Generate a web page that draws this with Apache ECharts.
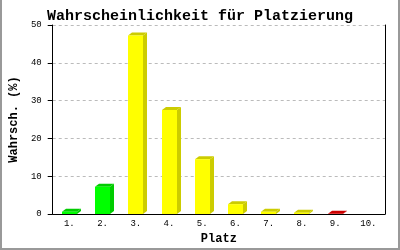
<!DOCTYPE html>
<html><head><meta charset="utf-8">
<script src="https://cdn.jsdelivr.net/npm/echarts@6/dist/echarts.min.js"></script>
<style>
html,body{margin:0;padding:0;background:#fff;}
#c{width:400px;height:250px;position:absolute;left:0;top:0;}
#f{position:absolute;left:0;top:0;width:400px;height:250px;box-sizing:border-box;border:2px solid #999;border-top:none;pointer-events:none;}
</style></head>
<body><div id="c"></div><div id="f"></div>
<script>
const categories = ['1.','2.','3.','4.','5.','6.','7.','8.','9.','10.'];
const values = [0.6, 7.2, 47.2, 27.5, 14.5, 2.6, 0.6, 0.35, 0.05, 0];
const frontColors = ['#00ff00','#00ff00','#ffff00','#ffff00','#ffff00','#ffff00','#ffff00','#ffff00','#ff0000','#ff0000'];
const sideColors = ['#00cc00','#00cc00','#cccc00','#cccc00','#cccc00','#cccc00','#cccc00','#cccc00','#cc0000','#cc0000'];
const yTicks = [0,10,20,30,40,50];

const font = 'Liberation Mono';
const chart = echarts.init(document.getElementById('c'));
chart.setOption({
  animation:false,
  backgroundColor:'#fff',
  title:{text:'Wahrscheinlichkeit für Platzierung',left:'center',top:4,
    textStyle:{fontFamily:font,fontSize:15,fontWeight:'bold',color:'#000'}},
  grid:{left:43,right:15,top:25,bottom:36},
  xAxis:{type:'category',data:categories,boundaryGap:true,
    name:'Platz',nameLocation:'middle',nameGap:18,
    nameTextStyle:{fontFamily:font,fontSize:12,fontWeight:'bold',color:'#000'},
    axisLine:{lineStyle:{color:'#000',width:1}},axisTick:{show:false},
    axisLabel:{fontFamily:font,fontSize:9,color:'#000',margin:5}},
  yAxis:[{type:'value',min:yTicks[0],max:yTicks[yTicks.length-1],interval:10,
    name:'Wahrsch. (%)',nameLocation:'middle',nameGap:31,
    nameTextStyle:{fontFamily:font,fontSize:12,fontWeight:'bold',color:'#000'},
    axisLine:{show:true,lineStyle:{color:'#000',width:1}},
    axisTick:{show:true,length:5,lineStyle:{color:'#000'}},
    axisLabel:{fontFamily:font,fontSize:9,color:'#000',margin:11},
    splitLine:{show:true,lineStyle:{color:'#bbb',type:[3,3],width:1}}},
    {type:'value',min:0,max:50,interval:10,position:'right',
    axisLine:{show:true,lineStyle:{color:'#000',width:1}},
    axisTick:{show:false},axisLabel:{show:false},splitLine:{show:false}}],
  series:[{type:'custom',
    data:values.map((v,i)=>[i,v]),
    renderItem:function(params,api){
      const i = api.value(0), v = api.value(1);
      if(!(v>0)) return;
      const top = api.coord([i,v]);
      const base = api.coord([i,0]);
      const w = 15, dx = 4, dy = 3;
      const x0 = Math.round(top[0]-w/2), x1 = x0+w;
      const ty = top[1], by = base[1];
      return {type:'group',children:[
        {type:'polygon',shape:{points:[[x1,by],[x1,ty],[x1+dx,ty-dy],[x1+dx,by-dy]]},
          style:{fill:sideColors[i]}},
        {type:'polygon',shape:{points:[[x0,ty],[x0+dx,ty-dy],[x1+dx,ty-dy],[x1,ty]]},
          style:{fill:sideColors[i]}},
        {type:'rect',shape:{x:x0,y:ty,width:w,height:by-ty},
          style:{fill:frontColors[i]}}
      ]};
    }
  }]
});
</script></body></html>
